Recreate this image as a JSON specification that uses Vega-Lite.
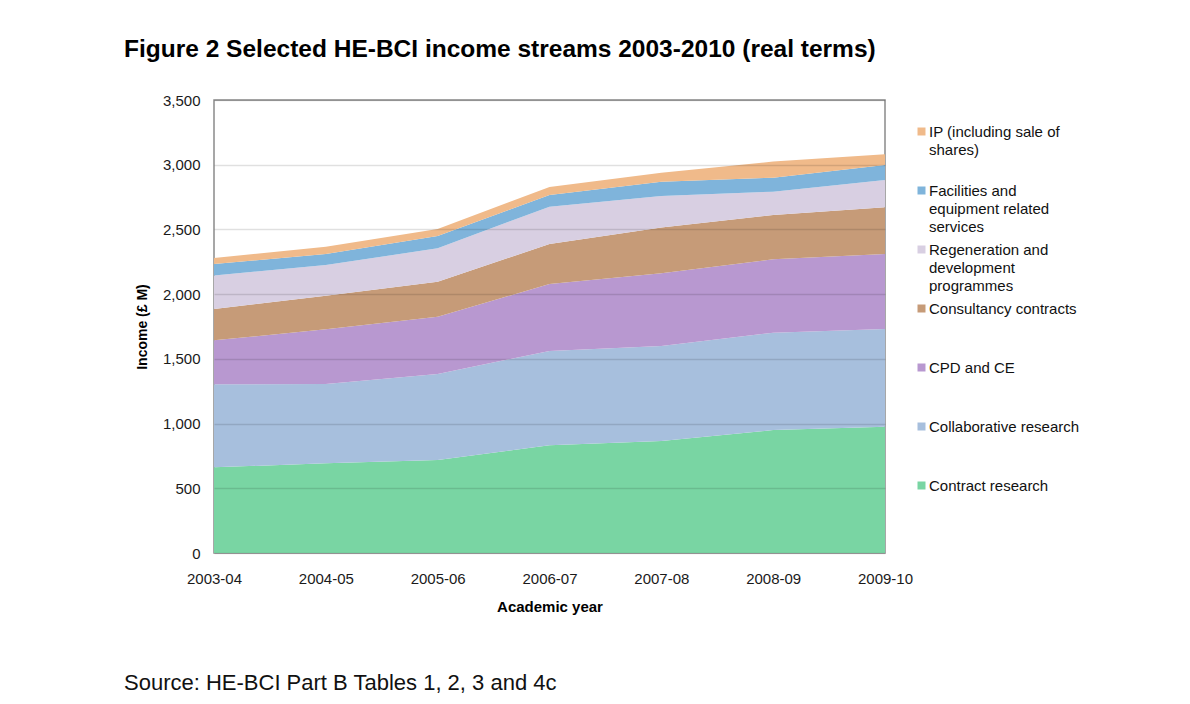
{
  "$schema": "https://vega.github.io/schema/vega-lite/v6.json",
  "padding": {"left": 123, "top": 36, "right": 0, "bottom": 0},
  "background": "white",
  "title": {
    "text": "Figure 2 Selected HE-BCI income streams 2003-2010 (real terms)",
    "anchor": "start",
    "frame": "group",
    "dx": -90,
    "fontSize": 24.5,
    "fontWeight": "bold",
    "font": "Liberation Sans",
    "color": "#000000",
    "offset": 30
  },
  "datasets": {
    "income": [
      {"year": "2003-04", "stream": "Contract research", "value": 662, "layer": 1},
      {"year": "2004-05", "stream": "Contract research", "value": 693, "layer": 1},
      {"year": "2005-06", "stream": "Contract research", "value": 718, "layer": 1},
      {"year": "2006-07", "stream": "Contract research", "value": 833, "layer": 1},
      {"year": "2007-08", "stream": "Contract research", "value": 865, "layer": 1},
      {"year": "2008-09", "stream": "Contract research", "value": 950, "layer": 1},
      {"year": "2009-10", "stream": "Contract research", "value": 976, "layer": 1},
      {"year": "2003-04", "stream": "Collaborative research", "value": 641, "layer": 2},
      {"year": "2004-05", "stream": "Collaborative research", "value": 612, "layer": 2},
      {"year": "2005-06", "stream": "Collaborative research", "value": 665, "layer": 2},
      {"year": "2006-07", "stream": "Collaborative research", "value": 728, "layer": 2},
      {"year": "2007-08", "stream": "Collaborative research", "value": 734, "layer": 2},
      {"year": "2008-09", "stream": "Collaborative research", "value": 752, "layer": 2},
      {"year": "2009-10", "stream": "Collaborative research", "value": 755, "layer": 2},
      {"year": "2003-04", "stream": "CPD and CE", "value": 340, "layer": 3},
      {"year": "2004-05", "stream": "CPD and CE", "value": 423, "layer": 3},
      {"year": "2005-06", "stream": "CPD and CE", "value": 443, "layer": 3},
      {"year": "2006-07", "stream": "CPD and CE", "value": 517, "layer": 3},
      {"year": "2007-08", "stream": "CPD and CE", "value": 562, "layer": 3},
      {"year": "2008-09", "stream": "CPD and CE", "value": 567, "layer": 3},
      {"year": "2009-10", "stream": "CPD and CE", "value": 579, "layer": 3},
      {"year": "2003-04", "stream": "Consultancy contracts", "value": 242, "layer": 4},
      {"year": "2004-05", "stream": "Consultancy contracts", "value": 260, "layer": 4},
      {"year": "2005-06", "stream": "Consultancy contracts", "value": 270, "layer": 4},
      {"year": "2006-07", "stream": "Consultancy contracts", "value": 309, "layer": 4},
      {"year": "2007-08", "stream": "Consultancy contracts", "value": 353, "layer": 4},
      {"year": "2008-09", "stream": "Consultancy contracts", "value": 342, "layer": 4},
      {"year": "2009-10", "stream": "Consultancy contracts", "value": 361, "layer": 4},
      {"year": "2003-04", "stream": "Regeneration and development programmes", "value": 260, "layer": 5},
      {"year": "2004-05", "stream": "Regeneration and development programmes", "value": 237, "layer": 5},
      {"year": "2005-06", "stream": "Regeneration and development programmes", "value": 258, "layer": 5},
      {"year": "2006-07", "stream": "Regeneration and development programmes", "value": 289, "layer": 5},
      {"year": "2007-08", "stream": "Regeneration and development programmes", "value": 244, "layer": 5},
      {"year": "2008-09", "stream": "Regeneration and development programmes", "value": 181, "layer": 5},
      {"year": "2009-10", "stream": "Regeneration and development programmes", "value": 211, "layer": 5},
      {"year": "2003-04", "stream": "Facilities and equipment related services", "value": 88, "layer": 6},
      {"year": "2004-05", "stream": "Facilities and equipment related services", "value": 85, "layer": 6},
      {"year": "2005-06", "stream": "Facilities and equipment related services", "value": 95, "layer": 6},
      {"year": "2006-07", "stream": "Facilities and equipment related services", "value": 90, "layer": 6},
      {"year": "2007-08", "stream": "Facilities and equipment related services", "value": 111, "layer": 6},
      {"year": "2008-09", "stream": "Facilities and equipment related services", "value": 108, "layer": 6},
      {"year": "2009-10", "stream": "Facilities and equipment related services", "value": 116, "layer": 6},
      {"year": "2003-04", "stream": "IP (including sale of shares)", "value": 46, "layer": 7},
      {"year": "2004-05", "stream": "IP (including sale of shares)", "value": 57, "layer": 7},
      {"year": "2005-06", "stream": "IP (including sale of shares)", "value": 54, "layer": 7},
      {"year": "2006-07", "stream": "IP (including sale of shares)", "value": 62, "layer": 7},
      {"year": "2007-08", "stream": "IP (including sale of shares)", "value": 69, "layer": 7},
      {"year": "2008-09", "stream": "IP (including sale of shares)", "value": 124, "layer": 7},
      {"year": "2009-10", "stream": "IP (including sale of shares)", "value": 82, "layer": 7}
    ]
  },
  "vconcat": [
    {
      "width": 671,
      "height": 453,
      "title": {
        "text": "Source: HE-BCI Part B Tables 1, 2, 3 and 4c",
        "orient": "bottom",
        "anchor": "start",
        "frame": "group",
        "dx": -90,
        "offset": 59,
        "fontSize": 22,
        "fontWeight": "normal",
        "font": "Liberation Sans",
        "color": "#111111"
      },
      "data": {"name": "income"},
      "mark": {"type": "area", "opacity": 1, "strokeWidth": 0},
      "encoding": {
        "x": {
          "field": "year",
          "type": "ordinal",
          "scale": {"type": "point", "padding": 0},
          "axis": {
            "title": "Academic year",
            "labelAngle": 0,
            "ticks": false,
            "tickSize": 0,
            "labelPadding": 18,
            "titlePadding": 13,
            "domain": false,
            "grid": false
          }
        },
        "y": {
          "field": "value",
          "type": "quantitative",
          "stack": "zero",
          "scale": {"domain": [0, 3500], "nice": false},
          "axis": {
            "title": "Income (£ M)",
            "values": [0, 500, 1000, 1500, 2000, 2500, 3000, 3500],
            "format": ",d",
            "ticks": false,
            "tickSize": 0,
            "labelPadding": 14,
            "titlePadding": 13,
            "titleFontSize": 14,
            "domain": false,
            "grid": true,
            "gridColor": "#000000",
            "gridOpacity": 0.12,
            "gridWidth": 1.5,
            "zindex": 1
          }
        },
        "color": {
          "field": "stream",
          "type": "nominal",
          "sort": [
            "IP (including sale of shares)",
            "Facilities and equipment related services",
            "Regeneration and development programmes",
            "Consultancy contracts",
            "CPD and CE",
            "Collaborative research",
            "Contract research"
          ],
          "scale": {
            "domain": [
              "IP (including sale of shares)",
              "Facilities and equipment related services",
              "Regeneration and development programmes",
              "Consultancy contracts",
              "CPD and CE",
              "Collaborative research",
              "Contract research"
            ],
            "range": ["#F0BA8A", "#7FB4DB", "#D8CFE2", "#C69B78", "#B898D0", "#A7BFDD", "#79D5A3"]
          },
          "legend": {
            "title": null,
            "orient": "none",
            "legendX": 700,
            "legendY": 24,
            "padding": 0,
            "symbolType": "square",
            "symbolSize": 64,
            "symbolStrokeWidth": 0,
            "symbolOpacity": 1,
            "labelFontSize": 15,
            "labelColor": "#111111",
            "labelOffset": 0,
            "labelBaseline": "top",
            "labelLimit": 300,
            "rowPadding": 7,
            "labelExpr": "datum.label == 'IP (including sale of shares)' ? ['IP (including sale of', 'shares)', ''] : datum.label == 'Facilities and equipment related services' ? ['Facilities and', 'equipment related', 'services'] : datum.label == 'Regeneration and development programmes' ? ['Regeneration and', 'development', 'programmes'] : [datum.label, '', '']",
            "encode": {"labels": {"update": {"lineHeight": {"value": 18}, "dy": {"value": -7}}}}
          }
        },
        "order": {"field": "layer", "type": "quantitative", "sort": "ascending"}
      }
    }
  ],
  "config": {
    "font": "Liberation Sans",
    "view": {"stroke": "#8a8a8a", "strokeWidth": 1.5},
    "concat": {"spacing": 0},
    "axis": {
      "labelFontSize": 15,
      "labelColor": "#1a1a1a",
      "titleFontSize": 15,
      "titleFontWeight": "bold",
      "titleColor": "#000000",
      "labelFont": "Liberation Sans",
      "titleFont": "Liberation Sans"
    },
    "legend": {"labelFont": "Liberation Sans"}
  }
}
